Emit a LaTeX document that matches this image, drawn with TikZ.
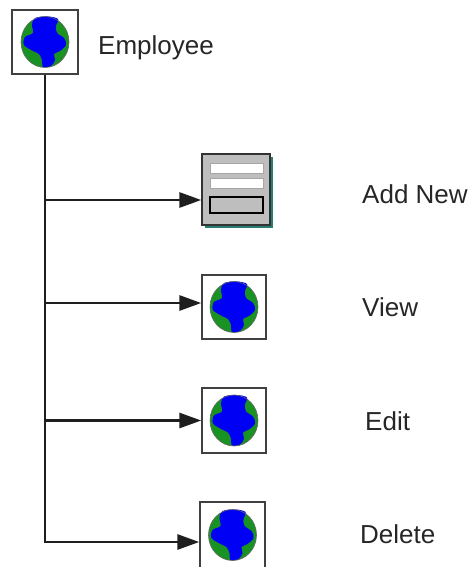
\documentclass[tikz,border=0pt]{standalone}
\usepackage{fontspec}
\setmainfont{Liberation Sans}
\usetikzlibrary{arrows.meta,patterns,shadows}

\definecolor{globegreen}{RGB}{20,150,30}
\definecolor{globeblue}{RGB}{0,0,245}
\definecolor{formgray}{RGB}{190,190,190}
\definecolor{formshadow}{RGB}{40,125,115}
\definecolor{linegray}{RGB}{30,30,30}

\tikzset{
  globe/.pic={
    \fill[globegreen] (0,0) ellipse [x radius=24, y radius=25.5];
    \fill[pattern=dots, pattern color=black!60] (0,0) ellipse [x radius=24, y radius=25.5];
    \fill[globeblue] plot[smooth cycle, tension=0.55] coordinates {
      (-10,-24) (3,-25.5) (13,-23) (11,-16) (12,-9) (19,-4) (21,3) (15,9)
      (9,12) (10,18) (6,24) (-2,25) (-3,18) (-6,12) (-12,9) (-21,3)
      (-20,-5) (-12,-9) (-13,-17)};
    \draw[black!60, line width=0.6pt] (0,0) ellipse [x radius=24, y radius=25.5];
  }
}

\begin{document}
\begin{tikzpicture}[x=1pt, y=-1pt,
  iconbox/.style={draw=black!75, line width=1.4pt, fill=white, inner sep=0pt},
  formbox/.style={draw=black!80, line width=1.4pt, fill=formgray, inner sep=0pt,
    drop shadow={shadow xshift=3pt, shadow yshift=-3pt, fill=formshadow, opacity=1}},
  itemtext/.style={anchor=base west, inner sep=0pt, text=black!85, font=\fontsize{26}{30}\selectfont},
  link/.style={draw=linegray, line width=2.9pt},
  branch/.style={-{Triangle[length=22pt, width=15pt]}}
]
\useasboundingbox (0,0) rectangle (469,567);

% icons
\node[iconbox, minimum width=66, minimum height=64] (emp) at (45,42) {};
\pic at (emp.center) {globe};
\node[formbox, minimum width=68, minimum height=71] (addnew) at (236,189.5) {};
\node[iconbox, minimum width=64, minimum height=64] (view) at (234,307) {};
\pic at (view.center) {globe};
\node[iconbox, minimum width=64, minimum height=65] (edit) at (234,420.5) {};
\pic at (edit.center) {globe};
\node[iconbox, minimum width=65, minimum height=66] (del) at (232.5,535) {};
\pic at (del.center) {globe};

% bars of the form icon
\draw[gray!70, fill=white, line width=0.8pt] ([shift={(-26,-26.5)}]addnew.center) rectangle ([shift={(27,-16.5)}]addnew.center);
\draw[gray!70, fill=white, line width=0.8pt] ([shift={(-26,-11.5)}]addnew.center) rectangle ([shift={(27,-1.5)}]addnew.center);
\draw[black, fill=formgray, line width=1.2pt] ([shift={(-26,7.5)}]addnew.center) rectangle ([shift={(27,23.5)}]addnew.center);

% labels
\node[itemtext] (emptext) at (98,55) {Employee};
\node[itemtext] (addtext) at (362,203) {Add New};
\node[itemtext] (viewtext) at (362,316.5) {View};
\node[itemtext] (edittext) at (365,430.5) {Edit};
\node[itemtext] (deltext) at (360,543) {Delete};

% connectors
\coordinate (addin) at ([yshift=-10.5pt]addnew.west);
\coordinate (viewin) at ([yshift=4pt]view.west);
\coordinate (editin) at (edit.west);
\coordinate (delin) at ([yshift=-7pt]del.west);
\draw[link, branch] (emp.south) |- (delin);
\draw[link, branch] (emp.south |- addin) -- (addin);
\draw[link, branch] (emp.south |- viewin) -- (viewin);
\draw[link, branch] (emp.south |- editin) -- (editin);
\end{tikzpicture}
\end{document}
